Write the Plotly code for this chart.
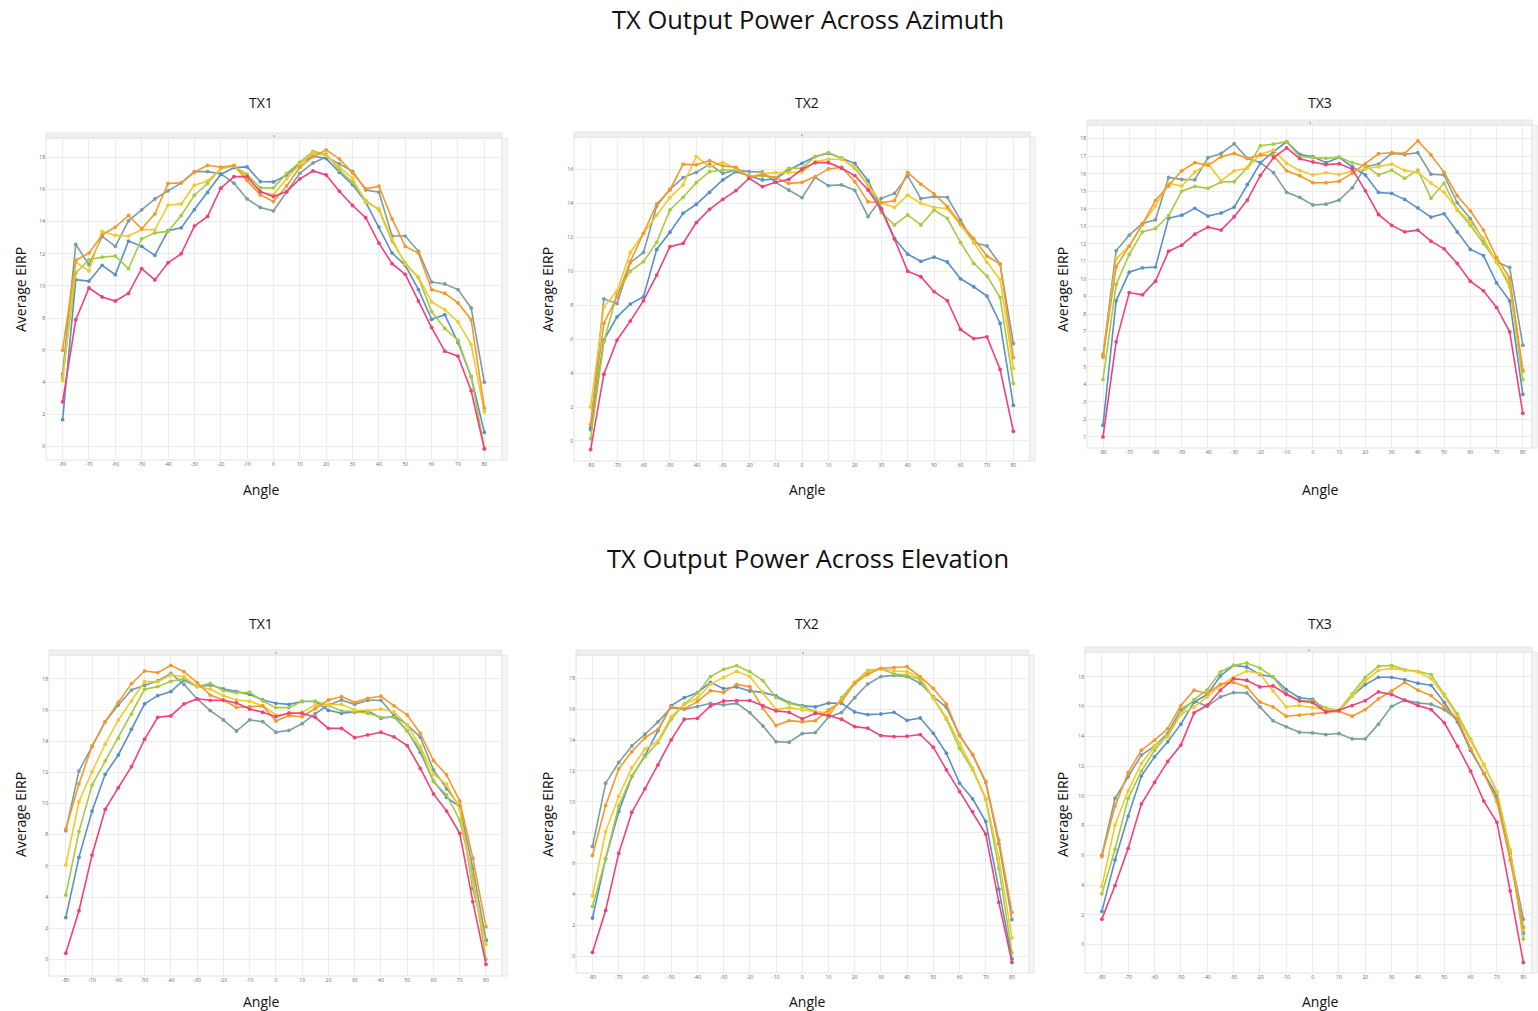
import plotly.graph_objects as go

ANGLES = list(range(-80, 85, 5))
X_TICKS = list(range(-80, 90, 10))

# ---------- Azimuth TX1 ----------
az_tx1_pink = [2.79,7.9,9.87,9.31,9.06,9.54,11.07,10.37,11.44,12.0,13.72,14.32,16.08,16.8,16.8,15.87,15.56,15.87,16.66,17.15,16.9,15.89,15.0,14.24,12.66,11.38,10.72,9.06,7.41,5.94,5.63,3.48,-0.14]
az_tx1_blue = [1.68,10.39,10.3,11.28,10.7,12.79,12.46,11.9,13.43,13.61,14.75,15.81,16.93,17.36,17.4,16.49,16.47,16.9,17.63,18.08,17.92,17.07,16.3,15.21,13.66,12.04,11.28,9.77,7.92,8.21,6.48,4.35,0.89]
az_tx1_teal = [4.51,12.58,11.32,13.08,12.46,14.05,14.73,15.41,15.91,16.41,17.11,17.11,16.97,16.39,15.41,14.88,14.67,15.83,17.0,17.65,18.02,17.59,17.13,15.97,15.83,13.1,13.1,12.15,10.24,10.12,9.77,8.63,4.01]
az_tx1_green = [4.3,10.8,11.63,11.79,11.86,11.07,12.93,13.3,13.39,14.38,15.64,16.37,17.34,17.44,16.93,16.1,16.1,17.0,17.69,18.37,18.21,17.21,16.45,15.31,14.73,12.79,11.42,10.51,8.4,7.35,6.62,4.35,-0.1]
az_tx1_yellow = [4.12,11.48,10.92,13.39,13.14,13.1,13.51,13.49,15.02,15.1,16.26,16.53,17.28,17.48,16.76,15.83,15.68,16.66,17.55,18.27,18.1,17.42,16.7,15.21,14.79,12.93,11.34,10.55,9.0,8.52,7.76,6.35,2.17]
az_tx1_orange = [6.0,11.59,12.04,13.18,13.66,14.38,13.55,14.48,16.37,16.41,17.07,17.5,17.38,17.5,16.55,15.66,15.25,16.22,17.38,18.04,18.46,17.9,17.03,16.04,16.2,14.17,12.46,12.04,9.77,9.54,8.94,7.9,2.4]

# ---------- Azimuth TX2 ----------
az_tx2_pink = [-0.51,3.93,5.94,7.06,8.26,9.77,11.44,11.64,12.86,13.64,14.23,14.74,15.47,14.98,15.23,15.41,16.0,16.39,16.39,16.06,15.63,14.78,13.64,11.89,10.0,9.67,8.79,8.26,6.57,6.03,6.13,4.21,0.57]
az_tx2_blue = [0.67,5.94,7.31,8.06,8.49,11.28,12.29,13.41,13.94,14.64,15.37,15.86,15.63,15.37,15.43,15.96,16.35,16.75,16.94,16.65,16.35,15.33,13.7,11.93,11.0,10.58,10.83,10.54,9.55,9.08,8.53,6.92,2.1]
az_tx2_teal = [0.79,8.37,8.1,10.5,11.1,13.84,14.82,15.51,15.82,16.3,15.76,15.96,15.86,15.84,15.23,14.78,14.33,15.53,15.04,15.08,14.76,13.21,14.29,14.58,15.61,14.27,14.39,14.35,13.01,11.68,11.48,10.4,5.74]
az_tx2_green = [0.14,5.84,8.69,10.0,10.56,11.7,13.6,14.35,15.21,15.86,15.96,15.96,15.63,15.61,15.51,16.06,16.06,16.75,16.98,16.65,16.06,15.08,13.46,12.72,13.31,12.72,13.6,13.11,11.7,10.46,9.71,8.45,3.38]
az_tx2_yellow = [2.0,7.9,8.83,11.1,12.23,13.31,14.33,15.08,16.75,16.16,16.41,16.06,15.53,15.76,15.8,15.8,15.84,16.45,16.59,16.59,16.16,15.08,14.03,13.76,14.47,14.0,13.76,13.68,12.72,11.68,10.52,9.51,4.27]
az_tx2_orange = [0.98,6.92,8.49,10.56,12.23,13.96,14.78,16.3,16.26,16.51,16.2,16.12,15.53,15.67,15.51,15.17,15.23,15.57,16.02,16.12,15.27,14.09,14.03,14.15,15.82,15.12,14.55,13.8,12.82,11.93,10.89,10.42,4.91]

# ---------- Azimuth TX3 ----------
az_tx3_pink = [1.0,6.42,9.23,9.1,9.88,11.59,11.93,12.56,12.96,12.79,13.55,14.5,15.91,16.92,17.47,16.86,16.67,16.52,16.57,16.27,15.03,13.68,13.06,12.69,12.79,12.16,11.72,10.89,9.88,9.33,8.38,6.99,2.35]
az_tx3_blue = [1.67,8.76,10.39,10.64,10.68,13.47,13.64,14.03,13.59,13.76,14.1,15.39,16.63,17.26,17.83,17.1,16.97,16.63,16.93,16.4,15.93,14.94,14.88,14.54,14.06,13.53,13.72,12.68,11.69,11.34,9.78,8.76,3.43]
az_tx3_teal = [5.7,11.61,12.5,13.17,13.38,15.79,15.68,15.66,16.92,17.16,17.71,16.88,16.63,16.06,14.94,14.65,14.22,14.27,14.5,15.2,16.4,16.55,17.16,17.1,17.2,15.98,15.93,14.35,13.44,12.22,10.98,10.66,6.23]
az_tx3_green = [4.27,9.69,11.4,12.69,12.88,13.61,15.01,15.28,15.17,15.53,15.55,16.35,17.6,17.69,17.83,16.97,16.92,16.88,16.95,16.63,16.46,15.93,16.21,15.74,16.21,14.61,15.47,13.93,13.07,12.03,11.0,9.56,4.27]
az_tx3_yellow = [5.53,11.17,11.88,13.13,14.16,15.45,15.3,16.1,16.59,15.6,16.17,16.31,17.12,17.35,16.59,16.19,15.93,16.06,15.96,16.15,16.27,16.4,16.55,16.19,16.08,15.47,14.94,13.97,13.23,12.31,10.94,9.78,4.71]
az_tx3_orange = [5.56,10.7,11.88,13.11,14.48,15.3,16.17,16.63,16.48,16.97,17.16,16.88,17.07,17.03,16.17,15.89,15.49,15.49,15.57,16.04,16.57,17.14,17.2,17.16,17.87,17.07,16.08,14.75,13.89,12.79,11.23,10.07,4.8]

# ---------- Elevation TX1 ----------
el_tx1_pink = [0.39,3.12,6.7,9.63,11.02,12.37,14.13,15.54,15.63,16.4,16.72,16.63,16.63,16.46,16.07,15.86,15.58,15.82,15.8,15.54,14.83,14.83,14.23,14.41,14.58,14.28,13.72,12.26,10.62,9.52,8.09,3.7,-0.32]
el_tx1_blue = [2.68,6.55,9.52,11.88,13.12,14.77,16.4,16.93,17.19,17.94,17.51,17.62,17.36,17.19,17.02,16.65,16.44,16.37,16.55,16.55,15.99,15.8,15.86,15.95,15.48,15.58,14.68,13.29,11.45,10.4,9.8,4.56,1.2]
el_tx1_teal = [8.26,12.09,13.66,15.26,16.33,17.29,17.59,17.87,18.36,17.66,16.72,15.97,15.37,14.66,15.37,15.26,14.58,14.7,15.13,15.77,16.33,16.65,16.37,16.63,16.63,15.65,15.05,14.26,12.16,10.94,9.8,5.84,1.24]
el_tx1_green = [4.13,8.2,11.19,12.74,14.19,15.75,17.34,17.51,17.85,18.02,17.51,17.72,17.25,17.12,17.15,16.59,16.16,16.16,16.57,16.57,16.29,15.95,15.9,15.8,15.54,15.54,14.66,13.48,11.41,10.55,8.95,5.31,0.0]
el_tx1_yellow = [6.06,10.12,12.05,13.81,15.37,16.59,17.83,17.83,18.26,18.15,17.51,17.36,16.93,16.65,16.57,16.29,15.69,15.75,15.86,16.33,16.33,16.37,16.01,15.97,16.07,15.88,15.05,13.66,11.88,11.24,9.65,4.77,0.96]
el_tx1_orange = [8.37,11.26,13.7,15.26,16.5,17.7,18.51,18.41,18.88,18.47,17.77,16.97,16.65,16.18,16.22,16.27,15.3,15.65,15.58,16.1,16.65,16.87,16.5,16.76,16.89,16.27,15.69,14.51,12.76,11.84,10.17,6.49,2.1]

# ---------- Elevation TX2 ----------
el_tx2_pink = [0.26,2.97,6.68,9.33,10.84,12.39,14.01,15.35,15.41,16.21,16.53,16.56,16.56,16.23,15.89,15.8,15.37,15.74,15.59,15.35,14.87,14.77,14.29,14.23,14.25,14.36,13.54,12.07,10.67,9.36,7.91,3.49,-0.39]
el_tx2_blue = [2.48,6.32,9.38,11.64,13.0,14.62,16.23,16.75,17.07,17.74,17.33,17.44,17.18,17.09,16.86,16.43,16.23,16.15,16.4,16.38,15.82,15.65,15.69,15.8,15.28,15.43,14.44,13.15,11.21,10.2,8.73,4.35,-0.17]
el_tx2_teal = [7.11,11.21,12.55,13.62,14.38,15.18,16.1,15.99,16.17,16.38,16.28,16.38,15.78,14.92,13.9,13.86,14.42,14.49,15.48,15.78,16.75,17.63,18.11,18.19,18.11,17.68,16.81,16.12,14.29,13.04,11.25,7.29,2.37]
el_tx2_green = [3.23,6.32,9.74,11.68,12.93,13.84,15.35,16.34,17.03,18.11,18.58,18.82,18.43,17.85,16.75,16.38,16.17,15.84,15.52,16.75,17.74,18.5,18.62,18.28,18.22,17.93,16.71,15.35,13.47,12.07,10.17,5.71,0.22]
el_tx2_yellow = [3.92,8.08,10.35,12.22,13.41,13.95,15.52,16.32,16.71,17.63,18.06,18.45,18.11,17.07,15.99,16.1,15.95,15.84,15.78,16.6,17.68,18.43,18.65,18.47,18.43,18.04,16.71,15.46,13.8,12.18,10.24,6.36,1.19]
el_tx2_orange = [6.53,9.77,12.14,13.26,14.14,14.7,16.17,16.02,16.49,17.2,17.09,17.61,17.46,16.06,14.94,15.26,15.18,15.26,15.95,16.49,17.68,18.26,18.65,18.69,18.75,18.11,17.35,16.32,14.33,13.08,11.32,7.54,2.85]

# ---------- Elevation TX3 ----------
el_tx3_pink = [1.72,3.98,6.48,9.46,10.91,12.32,13.42,15.59,16.1,17.11,17.89,17.78,17.33,17.4,16.84,16.39,16.28,15.65,15.76,16.08,16.41,17.0,16.82,16.44,16.08,15.81,14.92,13.35,11.67,9.66,8.23,3.62,-1.19]
el_tx3_blue = [2.24,5.7,8.65,11.34,12.63,13.64,14.83,16.32,16.82,18.07,18.78,18.67,18.16,18.0,17.15,16.61,16.5,15.72,15.7,16.71,17.49,17.98,17.98,17.82,17.58,17.44,16.28,14.98,13.08,11.52,10.0,6.19,0.78]
el_tx3_teal = [6.02,9.84,11.29,12.75,13.35,14.2,15.81,16.39,16.03,16.66,16.95,16.93,15.99,15.05,14.65,14.29,14.24,14.13,14.2,13.84,13.84,14.83,16.03,16.44,16.26,16.17,15.81,15.14,13.08,11.52,9.95,6.19,1.72]
el_tx3_green = [3.42,6.42,9.84,11.67,13.08,14.09,15.59,16.48,17.15,18.34,18.78,18.94,18.6,18.0,16.88,16.44,16.39,15.92,15.76,16.84,17.98,18.72,18.78,18.49,18.38,18.16,16.82,15.5,13.82,12.12,10.29,6.37,0.38]
el_tx3_yellow = [3.91,8.05,10.35,12.19,13.35,13.98,15.5,15.99,16.66,17.44,17.98,18.4,18.22,17.06,15.99,16.08,15.94,15.85,15.76,16.71,17.73,18.45,18.58,18.45,18.34,17.89,16.71,15.32,13.75,12.08,10.29,6.31,1.05]
el_tx3_orange = [5.93,9.32,11.58,13.08,13.75,14.53,16.08,17.11,16.88,17.51,17.64,17.33,16.32,15.99,15.36,15.43,15.5,15.61,15.7,15.36,15.81,16.53,17.06,17.64,17.11,16.75,15.99,15.16,13.19,11.52,9.62,5.7,1.19]

COLORS = {"teal": "#7a9ea1", "blue": "#5a8fc8", "green": "#a6ca42",
          "yellow": "#f1ca2a", "orange": "#f5982c", "pink": "#f0417b"}
ORDER = ["teal", "blue", "green", "yellow", "orange", "pink"]

PANELS = [
    {"data": {"pink": az_tx1_pink, "blue": az_tx1_blue, "teal": az_tx1_teal, "green": az_tx1_green, "yellow": az_tx1_yellow, "orange": az_tx1_orange},
     "px": (46, 502), "py": (138, 460), "xr": (-86.3, 86.7), "yr": (-0.83, 19.2), "dt": 2, "title": "TX1"},
    {"data": {"pink": az_tx2_pink, "blue": az_tx2_blue, "teal": az_tx2_teal, "green": az_tx2_green, "yellow": az_tx2_yellow, "orange": az_tx2_orange},
     "px": (574, 1030), "py": (137, 461), "xr": (-86.3, 86.3), "yr": (-1.18, 17.9), "dt": 2, "title": "TX2"},
    {"data": {"pink": az_tx3_pink, "blue": az_tx3_blue, "teal": az_tx3_teal, "green": az_tx3_green, "yellow": az_tx3_yellow, "orange": az_tx3_orange},
     "px": (1087, 1532), "py": (125, 448), "xr": (-86.1, 83.5), "yr": (0.37, 18.78), "dt": 1, "title": "TX3"},
    {"data": {"pink": el_tx1_pink, "blue": el_tx1_blue, "teal": el_tx1_teal, "green": el_tx1_green, "yellow": el_tx1_yellow, "orange": el_tx1_orange},
     "px": (49, 502), "py": (655, 976), "xr": (-86.4, 86.1), "yr": (-1.07, 19.54), "dt": 2, "title": "TX1"},
    {"data": {"pink": el_tx2_pink, "blue": el_tx2_blue, "teal": el_tx2_teal, "green": el_tx2_green, "yellow": el_tx2_yellow, "orange": el_tx2_orange},
     "px": (576, 1029), "py": (655, 973), "xr": (-86.3, 86.5), "yr": (-1.08, 19.51), "dt": 2, "title": "TX2"},
    {"data": {"pink": el_tx3_pink, "blue": el_tx3_blue, "teal": el_tx3_teal, "green": el_tx3_green, "yellow": el_tx3_yellow, "orange": el_tx3_orange},
     "px": (1085, 1532), "py": (652, 973), "xr": (-86.4, 83.3), "yr": (-1.9, 19.68), "dt": 2, "title": "TX3"},
]

W, H = 1538, 1011
FONT = "Open Sans"


def fx(p):
    return p / W


def fy(p):
    return 1 - p / H


def label(text, x, y, size, angle=0, color="#111"):
    return dict(text=text, x=fx(x), y=fy(y), xref="paper", yref="paper",
                xanchor="center", yanchor="middle", showarrow=False, textangle=angle,
                font=dict(size=size, color=color, family=FONT))


fig = go.Figure()
layout = {}
shapes = []
annotations = []

for i, pnl in enumerate(PANELS):
    n = i + 1
    xa = "x" if n == 1 else f"x{n}"
    ya = "y" if n == 1 else f"y{n}"
    for key in ORDER:
        fig.add_trace(go.Scatter(
            x=ANGLES, y=pnl["data"][key], mode="lines+markers",
            name=key, showlegend=False, xaxis=xa, yaxis=ya,
            line=dict(color=COLORS[key], width=1.6),
            marker=dict(color=COLORS[key], size=3.8)))
    x0, x1 = pnl["px"]
    y0, y1 = pnl["py"]
    lo, hi = pnl["yr"]
    dt = pnl["dt"]
    yt = [v for v in range(int(lo) - 1, int(hi) + 2) if lo <= v <= hi and v % dt == 0]
    layout["xaxis" if n == 1 else f"xaxis{n}"] = dict(
        domain=[fx(x0), fx(x1)], range=list(pnl["xr"]), anchor=ya,
        tickvals=X_TICKS, ticktext=[str(v) for v in X_TICKS],
        tickfont=dict(size=5, color="#666", family=FONT), ticklen=0,
        showgrid=True, gridcolor="#ececec", gridwidth=1, zeroline=False,
        showline=False, fixedrange=True, automargin=False)
    layout["yaxis" if n == 1 else f"yaxis{n}"] = dict(
        domain=[fy(y1), fy(y0)], range=[lo, hi], anchor=xa,
        tickvals=yt, ticktext=[str(v) for v in yt],
        tickfont=dict(size=5, color="#666", family=FONT), ticklen=0,
        showgrid=True, gridcolor="#ececec", gridwidth=1, zeroline=False,
        showline=False, fixedrange=True, automargin=False)
    # frame, top strip, right strip
    shapes.append(dict(type="rect", xref="paper", yref="paper",
                       x0=fx(x0), x1=fx(x1), y0=fy(y1), y1=fy(y0),
                       line=dict(color="#e2e2e2", width=1), fillcolor="rgba(0,0,0,0)", layer="below"))
    shapes.append(dict(type="rect", xref="paper", yref="paper",
                       x0=fx(x0), x1=fx(x1), y0=fy(y0), y1=fy(y0 - 5),
                       line=dict(color="#e6e6e6", width=1), fillcolor="#efefef", layer="below"))
    shapes.append(dict(type="rect", xref="paper", yref="paper",
                       x0=fx(x1), x1=fx(min(x1 + 5, W - 1)), y0=fy(y1), y1=fy(y0),
                       line=dict(color="#e6e6e6", width=1), fillcolor="#f5f5f5", layer="below"))
    annotations.append(label("s", (x0 + x1) / 2, y0 - 2.5, 4, color="#555"))
    # panel title, axis titles
    cx = {0: 261, 1: 807, 2: 1320}[i % 3]
    top = i < 3
    annotations.append(label(pnl["title"], cx, 102 if top else 623, 14))
    annotations.append(label("Angle", cx, 490 if top else 1001, 14))
    lx = {0: 20, 1: 547, 2: 1062}[i % 3]
    annotations.append(label("Average EIRP", lx, 290 if top else 815, 14, angle=-90))

annotations.append(label("TX Output Power Across Azimuth", 808, 19, 25.5))
annotations.append(label("TX Output Power Across Elevation", 808, 558, 25.5))

fig.update_layout(width=W, height=H, margin=dict(l=0, r=0, t=0, b=0, pad=0),
                  paper_bgcolor="white", plot_bgcolor="white",
                  shapes=shapes, annotations=annotations, **layout)

fig.write_html("out.html", config={"displayModeBar": False},
               post_script="document.body.style.margin='0px';document.body.style.overflow='hidden';")
